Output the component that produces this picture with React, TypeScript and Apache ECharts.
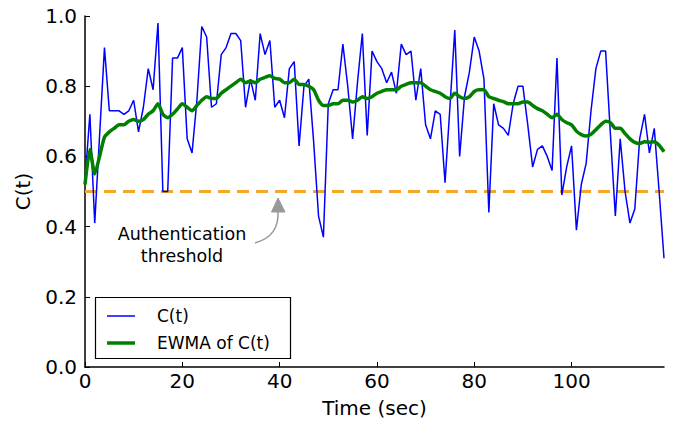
import React, { useEffect, useRef } from "react";
import * as echarts from "echarts";

const times: number[] = Array.from({ length: 120 }, (_, i) => i);

const cValues: number[] = [
  0.53, 0.72, 0.41, 0.66, 0.91, 0.73, 0.73, 0.73, 0.72, 0.73,
  0.76, 0.67, 0.74, 0.85, 0.79, 0.98, 0.5, 0.5, 0.88, 0.88,
  0.91, 0.65, 0.61, 0.76, 0.97, 0.94, 0.74, 0.75, 0.89, 0.91,
  0.95, 0.95, 0.93, 0.74, 0.82, 0.76, 0.95, 0.89, 0.93, 0.74,
  0.76, 0.71, 0.85, 0.87, 0.63, 0.8, 0.82, 0.64, 0.43, 0.37,
  0.75, 0.79, 0.79, 0.92, 0.8, 0.65, 0.81, 0.95, 0.66, 0.9,
  0.87, 0.85, 0.81, 0.84, 0.78, 0.92, 0.89, 0.9, 0.76, 0.85,
  0.69, 0.65, 0.73, 0.72, 0.525, 0.74, 0.96, 0.6, 0.77, 0.84,
  0.94, 0.9, 0.82, 0.44, 0.75, 0.69, 0.68, 0.66, 0.75, 0.8,
  0.8, 0.69, 0.57, 0.62, 0.63, 0.6, 0.56, 0.88, 0.49, 0.57,
  0.63, 0.39, 0.52, 0.58, 0.73, 0.85, 0.9, 0.9, 0.66, 0.43,
  0.65, 0.5, 0.41, 0.45, 0.65, 0.72, 0.61, 0.68, 0.5, 0.31,
];

const ewmaValues: number[] = [
  0.52, 0.62, 0.55, 0.6, 0.655, 0.67, 0.68, 0.69, 0.69, 0.7,
  0.705, 0.7, 0.705, 0.72, 0.73, 0.75, 0.72, 0.71, 0.72, 0.735,
  0.75, 0.74, 0.73, 0.745, 0.76, 0.77, 0.765, 0.765, 0.78, 0.79,
  0.8, 0.81, 0.82, 0.81, 0.815, 0.81, 0.82, 0.825, 0.83, 0.822,
  0.82, 0.81, 0.81, 0.82, 0.805, 0.805, 0.8, 0.79, 0.76, 0.745,
  0.745, 0.75, 0.75, 0.76, 0.76, 0.755, 0.76, 0.77, 0.765, 0.77,
  0.78, 0.785, 0.79, 0.79, 0.79, 0.8, 0.805, 0.81, 0.81, 0.81,
  0.8, 0.79, 0.785, 0.78, 0.77, 0.765, 0.78, 0.77, 0.765, 0.77,
  0.785, 0.79, 0.79, 0.77, 0.765, 0.76, 0.756, 0.75, 0.75, 0.75,
  0.755, 0.755, 0.745, 0.736, 0.73, 0.72, 0.71, 0.72, 0.705, 0.696,
  0.69, 0.672, 0.662, 0.658, 0.663, 0.676, 0.69, 0.7, 0.696, 0.68,
  0.68, 0.665, 0.65, 0.64, 0.637, 0.642, 0.64, 0.642, 0.632, 0.613,
];

const threshold = 0.5;
const xTickValues: number[] = [0, 20, 40, 60, 80, 100];
const yTickValues: number[] = [0, 0.2, 0.4, 0.6, 0.8, 1.0];

const FONT = "DejaVu Sans";

export default function App() {
  const ref = useRef<HTMLDivElement>(null);
  useEffect(() => {
    document.body.style.margin = "0";
    if (!ref.current) return;
    const chart = echarts.init(ref.current, null, { renderer: "svg" });
    chart.setOption({
      animation: false,
      backgroundColor: "#ffffff",
      grid: { left: 85, right: 9, top: 16, bottom: 56, containLabel: false },
      xAxis: {
        type: "value",
        min: 0,
        max: 119,
        name: "Time (sec)",
        nameLocation: "middle",
        nameGap: 31,
        nameTextStyle: { fontFamily: FONT, fontSize: 20, color: "#000" },
        axisLine: { show: true, lineStyle: { color: "#000", width: 1.5 } },
        axisTick: {
          show: true,
          inside: true,
          length: 5,
          lineStyle: { color: "#000", width: 1 },
          customValues: xTickValues,
        },
        axisLabel: {
          fontFamily: FONT,
          fontSize: 20,
          color: "#000",
          margin: 4,
          customValues: xTickValues,
          formatter: (v: number) => String(v),
        },
        splitLine: { show: false },
      },
      yAxis: {
        type: "value",
        min: 0,
        max: 1,
        interval: 0.2,
        name: "C(t)",
        nameLocation: "middle",
        nameGap: 52,
        nameRotate: 90,
        nameTextStyle: { fontFamily: FONT, fontSize: 20, color: "#000" },
        axisLine: { show: true, lineStyle: { color: "#000", width: 1.5 } },
        axisTick: {
          show: true,
          inside: true,
          length: 5,
          lineStyle: { color: "#000", width: 1 },
          customValues: yTickValues,
        },
        axisLabel: {
          fontFamily: FONT,
          fontSize: 20,
          color: "#000",
          margin: 8,
          customValues: yTickValues,
          formatter: (v: number) => v.toFixed(1),
        },
        splitLine: { show: false },
      },
      series: [
        {
          name: "C(t)",
          type: "line",
          data: times.map((t, i) => [t, cValues[i]]),
          showSymbol: false,
          symbol: "none",
          lineStyle: { color: "#0000ff", width: 1.5 },
          z: 2,
          markLine: {
            silent: true,
            symbol: ["none", "none"],
            label: { show: false },
            lineStyle: { color: "#f5a623", width: 3, type: [12, 7] },
            data: [{ yAxis: threshold }],
            z: 1,
          },
        },
        {
          name: "EWMA of C(t)",
          type: "line",
          data: times.map((t, i) => [t, ewmaValues[i]]),
          showSymbol: false,
          symbol: "none",
          smooth: 0.2,
          lineStyle: { color: "#008000", width: 3.5 },
          z: 3,
        },
      ],
      graphic: [
        {
          type: "rect",
          shape: { x: 95.5, y: 297.5, width: 195, height: 61 },
          style: { fill: "#fff", stroke: "#000", lineWidth: 1.2 },
          z: 100,
        },
        {
          type: "line",
          shape: { x1: 107, y1: 316, x2: 135, y2: 316 },
          style: { stroke: "#0000ff", lineWidth: 1.5 },
          z: 101,
        },
        {
          type: "line",
          shape: { x1: 107, y1: 343, x2: 135, y2: 343 },
          style: { stroke: "#008000", lineWidth: 3.5 },
          z: 101,
        },
        {
          type: "text",
          x: 157,
          y: 316,
          style: { text: "C(t)", fontFamily: FONT, fontSize: 17, fill: "#000", verticalAlign: "middle" },
          z: 101,
        },
        {
          type: "text",
          x: 157,
          y: 343,
          style: { text: "EWMA of C(t)", fontFamily: FONT, fontSize: 17, fill: "#000", verticalAlign: "middle" },
          z: 101,
        },
        {
          type: "text",
          x: 182,
          y: 234,
          style: { text: "Authentication", fontFamily: FONT, fontSize: 17.5, fill: "#000", align: "center", verticalAlign: "middle" },
          z: 50,
        },
        {
          type: "text",
          x: 182,
          y: 256,
          style: { text: "threshold", fontFamily: FONT, fontSize: 17.5, fill: "#000", align: "center", verticalAlign: "middle" },
          z: 50,
        },
        {
          type: "bezierCurve",
          shape: { x1: 255, y1: 243, cpx1: 272, cpy1: 238, cpx2: 279, cpy2: 228, x2: 278, y2: 210 },
          style: { stroke: "#999999", lineWidth: 1.5, fill: null },
          z: 50,
        },
        {
          type: "polygon",
          shape: { points: [[278, 198], [285, 212], [271.5, 212]] },
          style: { fill: "#999999", stroke: "#999999", lineWidth: 1 },
          z: 50,
        },
      ],
    });
    return () => chart.dispose();
  }, []);
  return <div ref={ref} style={{ width: 673, height: 423 }} />;
}
